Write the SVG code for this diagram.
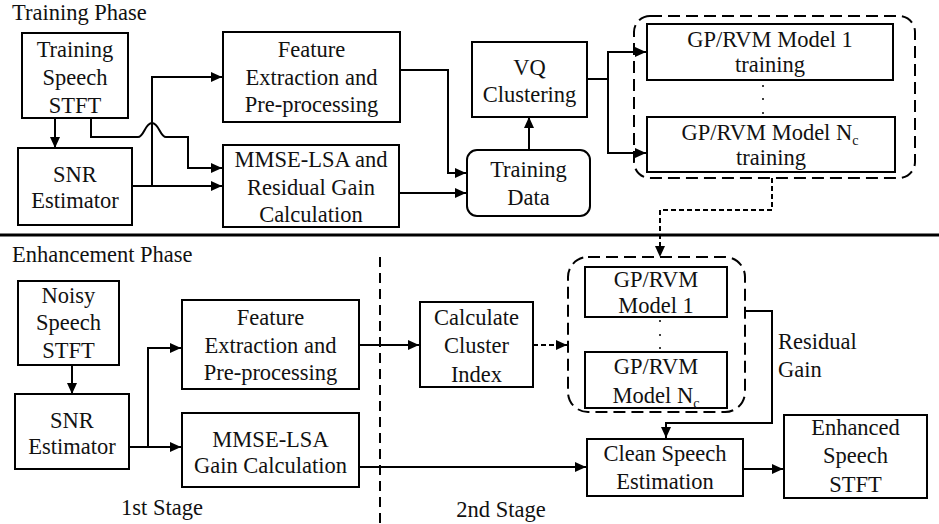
<svg xmlns="http://www.w3.org/2000/svg" width="939" height="524" viewBox="0 0 939 524">
<defs>
<marker id="arr" markerUnits="userSpaceOnUse" markerWidth="11" markerHeight="10" refX="11" refY="5" orient="auto">
<path d="M0,0 L11,5 L0,10 z" fill="#000"/>
</marker>
<style>
text{font-family:"Liberation Serif","Times New Roman",serif;font-size:22.5px;fill:#111}
.c{text-anchor:middle}
.box{fill:#fff;stroke:#000;stroke-width:2}
.cont{fill:none;stroke:#000;stroke-width:2;stroke-dasharray:12 6}
.ln{fill:none;stroke:#000;stroke-width:2}
.dl{fill:none;stroke:#000;stroke-width:2;stroke-dasharray:5 3}
.sub{font-size:14px}
</style>
</defs>
<rect width="939" height="524" fill="#fff"/>
<text x="12" y="20">Training Phase</text>
<text x="12" y="262">Enhancement Phase</text>
<line x1="0" y1="235" x2="939" y2="235" stroke="#000" stroke-width="3"/>
<line x1="380" y1="257" x2="380" y2="524" stroke="#000" stroke-width="2" stroke-dasharray="10 6"/>

<g id="connectors">
<path class="ln" d="M55,118 V148" marker-end="url(#arr)"/>
<path class="ln" d="M132,186 H222" marker-end="url(#arr)"/>
<path class="ln" d="M152,186 V77 H222" marker-end="url(#arr)"/>
<path class="ln" d="M91,118 V137 H138 C144,137 145,123 152,123 C159,123 160,137 166,137 H188 V168 H222" marker-end="url(#arr)"/>
<path class="ln" d="M400,70 H448 V173 H466" marker-end="url(#arr)"/>
<path class="ln" d="M399,193 H466" marker-end="url(#arr)"/>
<path class="ln" d="M529,150 V117" marker-end="url(#arr)"/>
<path class="ln" d="M587,79 H608"/>
<path class="ln" d="M608,79 V52 H646" marker-end="url(#arr)"/>
<path class="ln" d="M608,79 V153 H646" marker-end="url(#arr)"/>
<path class="dl" d="M772,178 V210 H660 V257" marker-end="url(#arr)"/>
<path class="ln" d="M72,365 V394" marker-end="url(#arr)"/>
<path class="ln" d="M129,447 H181" marker-end="url(#arr)"/>
<path class="ln" d="M148,447 V348 H181" marker-end="url(#arr)"/>
<path class="ln" d="M359,345 H419" marker-end="url(#arr)"/>
<path class="dl" d="M533,345 H567" marker-end="url(#arr)"/>
<path class="ln" d="M359,467 H586" marker-end="url(#arr)"/>
<path class="ln" d="M745,311 H772 V423 H666 V438" marker-end="url(#arr)"/>
<path class="ln" d="M743,469 H783" marker-end="url(#arr)"/>
</g>

<g id="train_stft"><rect class="box" x="22" y="33" width="106" height="85"/>
<text class="c" x="75" y="57">Training</text><text class="c" x="75" y="85">Speech</text><text class="c" x="75" y="113">STFT</text></g>
<g id="train_snr"><rect class="box" x="18" y="148" width="114" height="77"/>
<text class="c" x="75" y="182">SNR</text><text class="c" x="75" y="208">Estimator</text></g>
<g id="train_feat"><rect class="box" x="223" y="32" width="177" height="90"/>
<text class="c" x="311.5" y="57">Feature</text><text class="c" x="311.5" y="85">Extraction and</text><text class="c" x="311.5" y="112">Pre-processing</text></g>
<g id="train_mmse"><rect class="box" x="223" y="145" width="176" height="82"/>
<text class="c" x="311" y="167">MMSE-LSA and</text><text class="c" x="311" y="195">Residual Gain</text><text class="c" x="311" y="222">Calculation</text></g>
<g id="train_data"><rect class="box" x="467" y="150" width="123" height="66" rx="10"/>
<text class="c" x="528.5" y="177">Training</text><text class="c" x="528.5" y="205">Data</text></g>
<g id="vq"><rect class="box" x="472" y="42" width="115" height="75"/>
<text class="c" x="529.5" y="75">VQ</text><text class="c" x="529.5" y="102">Clustering</text></g>
<g id="gp_train_group"><rect class="cont" x="634" y="16" width="281" height="162" rx="16"/></g>
<g id="gp1_train"><rect class="box" x="647" y="24" width="246" height="56"/>
<text class="c" x="770" y="47">GP/RVM Model 1</text><text class="c" x="770" y="72">training</text></g>
<g id="gpn_train"><rect class="box" x="647" y="117" width="248" height="55"/>
<text class="c" x="770" y="140">GP/RVM Model N<tspan class="sub" dy="5">c</tspan></text><text class="c" x="771" y="165">training</text></g>
<g id="dots_top" fill="#000"><circle cx="763" cy="86" r="1"/><circle cx="763" cy="99" r="1"/><circle cx="763" cy="113" r="1"/></g>

<g id="noisy_stft"><rect class="box" x="18" y="281" width="101" height="84"/>
<text class="c" x="68.5" y="303">Noisy</text><text class="c" x="68.5" y="330">Speech</text><text class="c" x="68.5" y="358">STFT</text></g>
<g id="enh_snr"><rect class="box" x="15" y="394" width="114" height="75"/>
<text class="c" x="72" y="428">SNR</text><text class="c" x="72" y="454">Estimator</text></g>
<g id="enh_feat"><rect class="box" x="182" y="300" width="177" height="89"/>
<text class="c" x="270.5" y="325">Feature</text><text class="c" x="270.5" y="353">Extraction and</text><text class="c" x="270.5" y="380">Pre-processing</text></g>
<g id="enh_mmse"><rect class="box" x="182" y="413" width="177" height="74"/>
<text class="c" x="270.5" y="447">MMSE-LSA</text><text class="c" x="270.5" y="473">Gain Calculation</text></g>
<g id="calc"><rect class="box" x="420" y="302" width="113" height="85"/>
<text class="c" x="476.5" y="325">Calculate</text><text class="c" x="476.5" y="353">Cluster</text><text class="c" x="476.5" y="382">Index</text></g>
<g id="gp_group"><rect class="cont" x="568" y="257" width="177" height="155" rx="20"/></g>
<g id="gp1"><rect class="box" x="585" y="267" width="142" height="50"/>
<text class="c" x="656" y="287">GP/RVM</text><text class="c" x="656" y="313">Model 1</text></g>
<g id="gpn"><rect class="box" x="585" y="352" width="142" height="56"/>
<text class="c" x="656" y="374">GP/RVM</text><text class="c" x="656" y="403">Model N<tspan class="sub" dy="5">c</tspan></text></g>
<g id="dots_bottom" fill="#000"><circle cx="660" cy="321" r="1"/><circle cx="660" cy="335" r="1"/><circle cx="660" cy="348" r="1"/></g>
<g id="clean"><rect class="box" x="587" y="439" width="156" height="57"/>
<text class="c" x="665" y="461">Clean Speech</text><text class="c" x="665" y="489">Estimation</text></g>
<g id="enhanced"><rect class="box" x="784" y="415" width="143" height="83"/>
<text class="c" x="855.5" y="435">Enhanced</text><text class="c" x="855.5" y="463">Speech</text><text class="c" x="855.5" y="492">STFT</text></g>

<g id="labels">
<text x="778" y="349">Residual</text><text x="778" y="377">Gain</text>
<text class="c" x="162" y="515">1st Stage</text>
<text class="c" x="501" y="517">2nd Stage</text>
</g>
</svg>
